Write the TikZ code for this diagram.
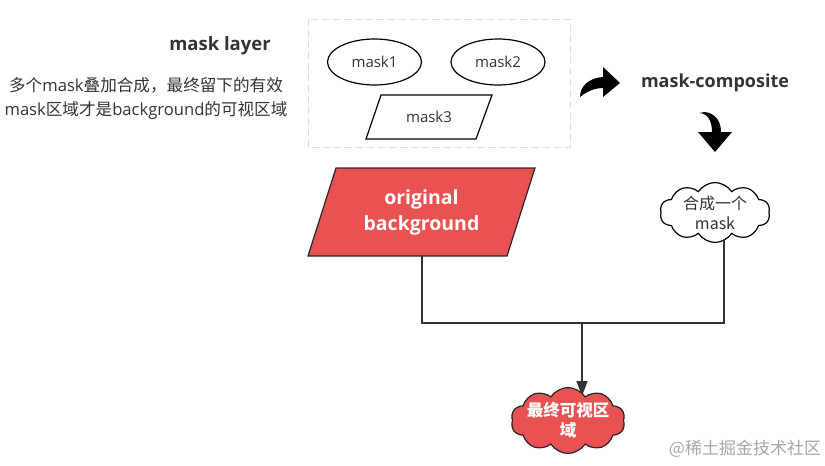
\documentclass[tikz,border=0pt]{standalone}
\usepackage{fontspec}
\setmainfont{Open Sans}
\newfontfamily\cjk{Noto Sans CJK SC}
\usetikzlibrary{shapes.symbols,shapes.geometric,arrows.meta}
\definecolor{redfill}{RGB}{232,82,82}
\definecolor{txt}{RGB}{51,51,51}
\begin{document}
\begin{tikzpicture}[x=1pt,y=-1pt,
  font=\fontsize{14}{17}\selectfont,
  title/.style={font=\fontsize{18.5}{22}\selectfont\bfseries, text=txt},
  plain/.style={font=\fontsize{15}{18}\selectfont, text=txt},
  maskell/.style={ellipse, draw=black, line width=1.2pt, minimum width=94pt, minimum height=46pt, inner sep=0pt, font=\fontsize{15}{18}\selectfont, text=txt},
  dashbox/.style={draw=black!14, line width=1pt, dash pattern=on 7pt off 4pt},
  conn/.style={draw=txt, line width=1.5pt},
  bendarrow/.style={fill=black, draw=none},
  cloudbox/.style={cloud, cloud puffs=10, cloud puff arc=115, draw=black, line width=1.2pt, inner sep=0pt, cloud ignores aspect}
]
\useasboundingbox (0,0) rectangle (825,466);

% left labels
\node[title] (ml) at (220,46) {mask layer};
\node[plain, align=center, font=\fontsize{16.6}{24}\selectfont] (desc) at (146,98)
  {{\cjk 多个}mask{\cjk 叠加合成，最终留下的有效}\\mask{\cjk 区域才是}background{\cjk 的可视区域}};

% mask layer group
\draw[dashbox] (308,19) rectangle (570,147);
\node[maskell] (m1) at (374.5,62) {mask1};
\node[maskell] (m2) at (498,62) {mask2};
\draw[line width=1.2pt] (381,95) -- (492,95) -- (476,139) -- (366,139) -- cycle;
\node[plain] (m3) at (429,117) {mask3};

% bent arrow right
\path[bendarrow] (580,97) .. controls (580,86) and (589,78) .. (603,77)
  -- (603,67) -- (620,83) -- (603,97) -- (603,88)
  .. controls (594,88) and (586,92) .. (580,97) -- cycle;
\node[title, font=\fontsize{18}{22}\selectfont\bfseries] (mc) at (715,83) {mask-composite};

% bent arrow down
\path[bendarrow] (699,113) .. controls (707,113) and (712,120) .. (712,132)
  -- (698,132) -- (715,152) -- (732,132) -- (721,132)
  .. controls (721,119) and (713,113) .. (705,112) -- cycle;

% composite cloud
\node[cloudbox, fill=white, minimum width=110pt, minimum height=60pt] (cl1) at (715,212.5) {};
\node[align=center, font=\cjk\fontsize{16}{20}\selectfont, text=txt] (cl1t) at (cl1.center) {合成一个\\mask};

% original background
\draw[fill=redfill, draw=black!85, line width=1.2pt] (336,168) -- (535,168) -- (507,256) -- (308,256) -- cycle;
\node[text=white, align=center, font=\fontsize{19.5}{26}\selectfont\bfseries] (orig) at (421.5,212) {original\\background};

% connectors
\coordinate (ob) at (422,256);
\coordinate (cb) at (724,239);
\coordinate (j) at (582,323);
\coordinate (rt) at (582,396);
\draw[conn] (ob) |- (j) -| (cb);
\draw[conn, -{Triangle[length=15pt,width=11pt]}] (j) -- (rt);

% final cloud
\node[cloudbox, fill=redfill, draw=black!85, minimum width=114pt, minimum height=66pt] (cl2) at (568,420.5) {};
\node[align=center, font=\cjk\bfseries\fontsize{16.5}{20}\selectfont, text=white] (cl2t) at (cl2.center) {最终可视区\\域};

% watermark
\node[font=\cjk\fontsize{17}{18}\selectfont, text=black!35] (wm) at (745,449) {@稀土掘金技术社区};
\end{tikzpicture}
\end{document}
